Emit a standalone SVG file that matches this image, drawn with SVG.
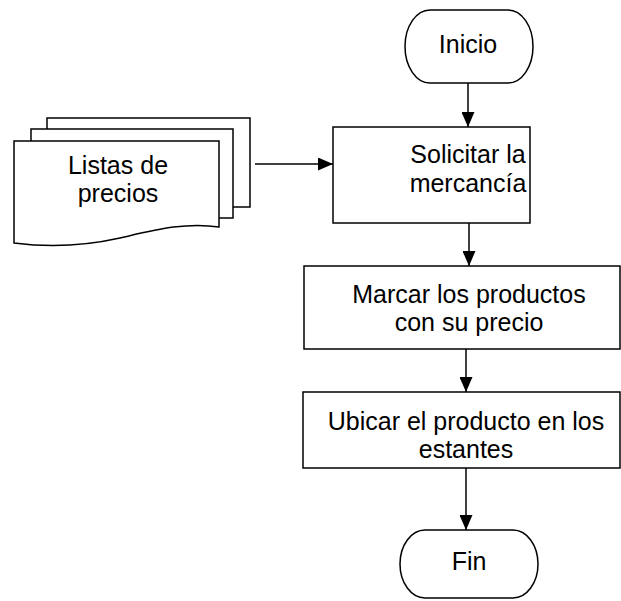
<svg xmlns="http://www.w3.org/2000/svg" width="621" height="601" viewBox="0 0 621 601">
<style>
.s{fill:#fff;stroke:#000;stroke-width:1.5}
.t{font-family:"Liberation Sans",Arial,sans-serif;font-size:25px;fill:#000;text-anchor:middle}
.c{stroke:#000;stroke-width:1.5;fill:none}
</style>
<defs>
<marker id="a" viewBox="0 0 15 13" refX="15" refY="6.5" markerWidth="15" markerHeight="13" markerUnits="userSpaceOnUse" orient="auto">
<path d="M0,0 L15,6.5 L0,13 Z" fill="#000"/>
</marker>
</defs>
<rect width="621" height="601" fill="#fff"/>
<g id="inicio">
<path class="s" d="M430,10 H508 A25,36.5 0 0 1 508,83 H430 A25,36.5 0 0 1 430,10 Z"/>
<text class="t" x="468" y="53">Inicio</text>
</g>
<g id="listas">
<rect class="s" x="47" y="118" width="203" height="89"/>
<rect class="s" x="31" y="129" width="202" height="89"/>
<path class="s" d="M14,141 H219 V227 C185,222 155,230 120,238 C80,247 45,247 14,243 Z"/>
<text class="t" x="118" y="174">Listas de</text>
<text class="t" x="118" y="202">precios</text>
</g>
<g id="solicitar">
<rect class="s" x="333" y="127" width="197" height="96"/>
<text class="t" x="468" y="163">Solicitar la</text>
<text class="t" x="468" y="192">mercancía</text>
</g>
<g id="marcar">
<rect class="s" x="304" y="266" width="316" height="83"/>
<text class="t" x="469" y="303">Marcar los productos</text>
<text class="t" x="469" y="331">con su precio</text>
</g>
<g id="ubicar">
<rect class="s" x="303" y="392" width="317" height="76"/>
<text class="t" x="466" y="430">Ubicar el producto en los</text>
<text class="t" x="466" y="458">estantes</text>
</g>
<g id="fin">
<path class="s" d="M425,530 H513 A25,34 0 0 1 513,598 H425 A25,34 0 0 1 425,530 Z"/>
<text class="t" x="469" y="570">Fin</text>
</g>
<g id="connectors">
<line class="c" x1="468" y1="83" x2="468" y2="127" marker-end="url(#a)"/>
<line class="c" x1="255" y1="164" x2="333" y2="164" marker-end="url(#a)"/>
<line class="c" x1="469" y1="223" x2="469" y2="266" marker-end="url(#a)"/>
<line class="c" x1="466" y1="349" x2="466" y2="392" marker-end="url(#a)"/>
<line class="c" x1="466" y1="468" x2="466" y2="530" marker-end="url(#a)"/>
</g>
</svg>
